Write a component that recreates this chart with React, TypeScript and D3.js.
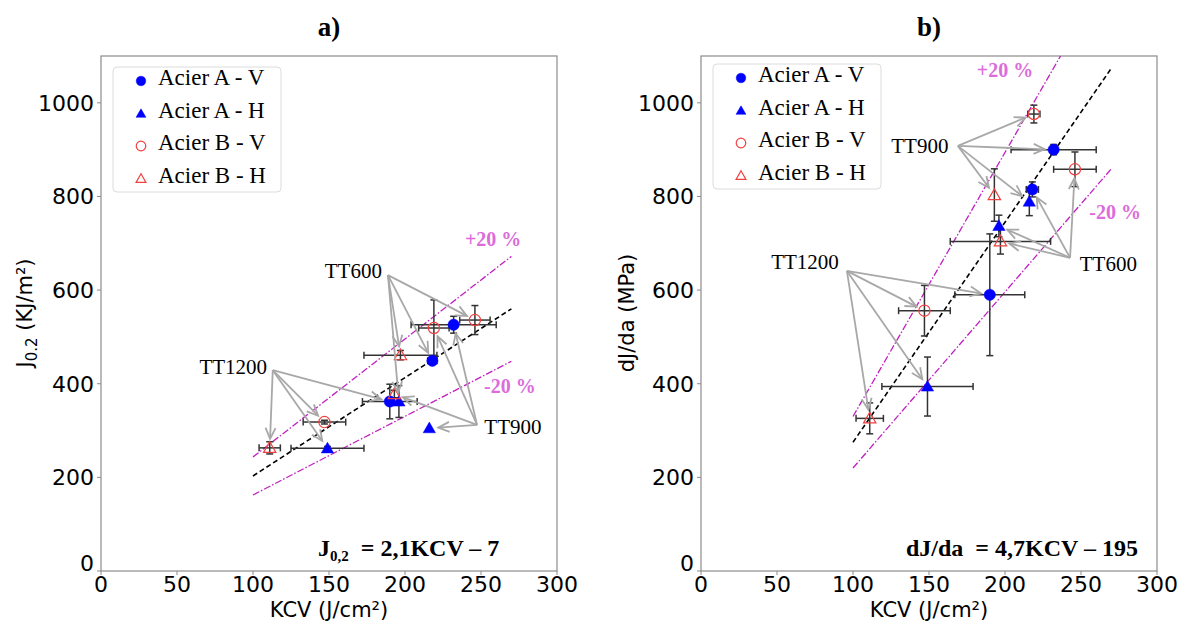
import React from 'react';
import * as d3 from 'd3';

// ---------- data ----------
const treatments = ['TT1200', 'TT900', 'TT600'];
const seriesNames = ['Acier A - V', 'Acier A - H', 'Acier B - V', 'Acier B - H'];

// KCV (J/cm²), order: TT1200, TT900, TT600
const kcvAV = [190, 232, 218];
const kcvAH = [149, 216, 196];
const kcvBV = [147, 219, 246];
const kcvBH = [111, 193, 197];

// panel a) J0.2 (KJ/m²)
const jAV = [362, 526, 449];
const jAH = [262, 305, 362];
const jBV = [318, 519, 536];
const jBH = [263, 378, 461];
const jXerrAV = [18, 28, 3];
const jXerrAH = [24, 0, 0];
const jXerrBV = [14, 10, 10];
const jXerrBH = [7, 0, 24];
const jYerrAV = [37, 18, 5];
const jYerrAH = [4, 0, 34];
const jYerrBV = [4, 60, 31];
const jYerrBH = [13, 8, 10];

// panel b) dJ/da (MPa)
const dAV = [590, 900, 815];
const dAH = [394, 789, 737];
const dBV = [556, 976, 858];
const dBH = [326, 803, 704];
const dXerrAV = [23, 28, 4];
const dXerrAH = [30, 0, 0];
const dXerrBV = [17, 4, 14];
const dXerrBH = [9, 0, 33];
const dYerrAV = [130, 11, 16];
const dYerrAH = [63, 30, 23];
const dYerrBV = [54, 19, 37];
const dYerrBH = [33, 56, 27];

// fits: y = a*KCV + b, drawn from KCV 100 to 270
const fitA = [2.1, -7];
const fitB = [4.7, -195];
const fitRange = [100, 270];
const bandFactors = [1.2, 0.8];

const xTicks = [0, 50, 100, 150, 200, 250, 300];
const yTicks = [0, 200, 400, 600, 800, 1000];

// ---------- layout ----------
const TOP = 56, BOTTOM = 571;
const SERIF = '"Liberation Serif", "Times New Roman", serif';
const SANS = '"DejaVu Sans", sans-serif';
const BLUE = '#0000ff';
const RED = '#f04040';
const MAG = '#c020c0';
const PINK = '#dc6cdc';

type Series = { name: string; kcv: number[]; val: number[]; xe: number[]; ye: number[]; filled: boolean; tri: boolean; color: string };

function Arrow({ x1, y1, x2, y2 }: { x1: number; y1: number; x2: number; y2: number }) {
  const dx = x2 - x1, dy = y2 - y1;
  const L = Math.hypot(dx, dy);
  const ux = dx / L, uy = dy / L;
  const shrink = 9;
  const ex = x2 - ux * shrink, ey = y2 - uy * shrink;
  const hl = 11, hw = 5;
  const bx = ex - ux * hl, by = ey - uy * hl;
  const p1 = [bx - uy * hw, by + ux * hw];
  const p2 = [bx + uy * hw, by - ux * hw];
  return (
    <g stroke="#a8a8a8" strokeWidth={1.8} fill="none" strokeLinejoin="miter">
      <line x1={x1} y1={y1} x2={ex} y2={ey} />
      <polyline points={`${p1[0]},${p1[1]} ${ex},${ey} ${p2[0]},${p2[1]}`} />
    </g>
  );
}

function Marker({ x, y, s, small }: { x: number; y: number; s: Series; small?: boolean }) {
  const sz = small ? (s.tri ? 42 : 72) : (s.tri ? 66 : 100);
  const path = d3.symbol().type(s.tri ? d3.symbolTriangle : d3.symbolCircle).size(sz)()!;
  return (
    <path d={path} transform={`translate(${x},${y + (s.tri ? 1 : 0)})`}
      fill={s.filled ? s.color : 'none'} stroke={s.color} strokeWidth={s.filled ? 0.5 : 1.2} />
  );
}

type Ann = { label: string; tx: number; ty: number; ox: number; oy: number; anchor: string };

function Panel({ left, right, title, series, fit, eq, ylab, anns, pct, legTop }: any) {
  const x = d3.scaleLinear().domain([0, 300]).range([left, right]);
  const y = d3.scaleLinear().domain([0, 1100]).range([BOTTOM, TOP]);
  const clipId = 'clip' + title.replace(/\W/g, '');
  const line = d3.line<number>().x(k => x(k)).y(k => y(fit[0] * k + fit[1]));
  const mk = (f: number) => d3.line<number>().x(k => x(k)).y(k => y(f * (fit[0] * k + fit[1])));
  const cx = (left + right) / 2;
  const cap = 3.5;
  return (
    <g>
      <defs>
        <clipPath id={clipId}><rect x={left} y={TOP} width={right - left} height={BOTTOM - TOP} /></clipPath>
      </defs>
      <text x={cx} y={36} textAnchor="middle" fontFamily={SERIF} fontWeight="bold" fontSize={27}>{title}</text>
      {/* frame */}
      <rect x={left} y={TOP} width={right - left} height={BOTTOM - TOP} fill="none" stroke="#8c8c8c" strokeWidth={1.2} />
      {/* ticks */}
      {xTicks.map(t => (
        <g key={'x' + t}>
          <line x1={x(t)} x2={x(t)} y1={BOTTOM} y2={BOTTOM + 4} stroke="#8c8c8c" />
          <text x={x(t)} y={BOTTOM + 21} textAnchor="middle" fontFamily={SANS} fontSize={22}>{t}</text>
        </g>
      ))}
      {yTicks.map(t => (
        <g key={'y' + t}>
          <line x1={left - 4} x2={left} y1={y(t)} y2={y(t)} stroke="#8c8c8c" />
          <text x={left - 7} y={y(t) + (t === 0 ? 0 : 8)} textAnchor="end" fontFamily={SANS} fontSize={22}>{t}</text>
        </g>
      ))}
      <text x={cx} y={617} textAnchor="middle" fontFamily={SANS} fontSize={21}>KCV (J/cm²)</text>
      {ylab}
      <g clipPath={`url(#${clipId})`}>
        {bandFactors.map(f => (
          <path key={f} d={mk(f)(fitRange)!} fill="none" stroke={MAG} strokeWidth={1.3} strokeDasharray="7,2,1.5,2" />
        ))}
        <path d={line(fitRange)!} fill="none" stroke="#000" strokeWidth={1.6} strokeDasharray="5,3" />
      </g>
      {/* error bars */}
      {series.map((s: Series) => s.kcv.map((k, i) => {
        const px = x(k), py = y(s.val[i]);
        const xe = s.xe[i], ye = s.ye[i];
        return (
          <g key={s.name + i} stroke="#333" strokeWidth={1.5}>
            {xe > 0 && <>
              <line x1={x(k - xe)} x2={x(k + xe)} y1={py} y2={py} />
              <line x1={x(k - xe)} x2={x(k - xe)} y1={py - cap} y2={py + cap} />
              <line x1={x(k + xe)} x2={x(k + xe)} y1={py - cap} y2={py + cap} />
            </>}
            {ye > 0 && <>
              <line x1={px} x2={px} y1={y(s.val[i] - ye)} y2={y(s.val[i] + ye)} />
              <line x1={px - cap} x2={px + cap} y1={y(s.val[i] - ye)} y2={y(s.val[i] - ye)} />
              <line x1={px - cap} x2={px + cap} y1={y(s.val[i] + ye)} y2={y(s.val[i] + ye)} />
            </>}
          </g>
        );
      }))}
      {series.map((s: Series) => s.kcv.map((k, i) => (
        <Marker key={'m' + s.name + i} x={x(k)} y={y(s.val[i])} s={s} />
      )))}
      {/* annotations */}
      {anns.map((a: Ann) => {
        const ti = treatments.indexOf(a.label);
        return (
          <g key={a.label}>
            {series.map((s: Series) => (
              <Arrow key={s.name} x1={x(a.ox)} y1={y(a.oy)} x2={x(s.kcv[ti])} y2={y(s.val[ti])} />
            ))}
            <text x={x(a.tx)} y={y(a.ty)} textAnchor={a.anchor} dominantBaseline="central" fontFamily={SERIF} fontSize={21}>{a.label}</text>
          </g>
        );
      })}
      {pct.map((p: any) => (
        <text key={p.t} x={x(p.k)} y={y(p.v)} textAnchor="middle" dominantBaseline="central" fontFamily={SERIF} fontWeight="bold" fontSize={20} fill={PINK}>{p.t}</text>
      ))}
      {eq}
      {/* legend */}
      <g>
        <rect x={left + 12} y={legTop} width={168} height={125} rx={4} fill="#fff" fillOpacity={0.85} stroke="#dcdcdc" />
        {series.map((s: Series, i: number) => (
          <g key={'l' + s.name}>
            <Marker x={left + 40} y={legTop + 14 + i * 32.5} s={s} small />
            <text x={left + 57} y={legTop + 18 + i * 32.5} fontFamily={SERIF} fontSize={23}>{s.name}</text>
          </g>
        ))}
      </g>
    </g>
  );
}

export default function App() {
  const mkSeries = (vals: number[][], xes: number[][], yes: number[][]): Series[] => [
    { name: seriesNames[0], kcv: kcvAV, val: vals[0], xe: xes[0], ye: yes[0], filled: true, tri: false, color: BLUE },
    { name: seriesNames[1], kcv: kcvAH, val: vals[1], xe: xes[1], ye: yes[1], filled: true, tri: true, color: BLUE },
    { name: seriesNames[2], kcv: kcvBV, val: vals[2], xe: xes[2], ye: yes[2], filled: false, tri: false, color: RED },
    { name: seriesNames[3], kcv: kcvBH, val: vals[3], xe: xes[3], ye: yes[3], filled: false, tri: true, color: RED },
  ];
  const sA = mkSeries([jAV, jAH, jBV, jBH], [jXerrAV, jXerrAH, jXerrBV, jXerrBH], [jYerrAV, jYerrAH, jYerrBV, jYerrBH]);
  const sB = mkSeries([dAV, dAH, dBV, dBH], [dXerrAV, dXerrAH, dXerrBV, dXerrBH], [dYerrAV, dYerrAH, dYerrBV, dYerrBH]);

  const annA: Ann[] = [
    { label: 'TT1200', tx: 87, ty: 436, ox: 113, oy: 429, anchor: 'middle' },
    { label: 'TT600', tx: 166, ty: 641, ox: 188.8, oy: 632, anchor: 'middle' },
    { label: 'TT900', tx: 271, ty: 308, ox: 247.4, oy: 312, anchor: 'middle' },
  ];
  const annB: Ann[] = [
    { label: 'TT900', tx: 144, ty: 908, ox: 169, oy: 908, anchor: 'middle' },
    { label: 'TT1200', tx: 68.4, ty: 660, ox: 96, oy: 641, anchor: 'middle' },
    { label: 'TT600', tx: 268, ty: 656, ox: 242.8, oy: 669, anchor: 'middle' },
  ];
  const pctA = [{ t: '+20 %', k: 258, v: 709 }, { t: '-20 %', k: 269, v: 396 }];
  const pctB = [{ t: '+20 %', k: 200, v: 1071 }, { t: '-20 %', k: 272.5, v: 767 }];

  const eqA = (
    <text x={318} y={556} fontFamily={SERIF} fontWeight="bold" fontSize={24}>
      J<tspan fontSize={15} dy={5}>0,2</tspan><tspan dy={-5}>{'\u00a0 = 2,1KCV – 7'}</tspan>
    </text>
  );
  const eqB = (
    <text x={906} y={556} fontFamily={SERIF} fontWeight="bold" fontSize={24}>
      {'dJ/da \u00a0= 4,7KCV – 195'}
    </text>
  );
  const ylabA = (
    <text transform="translate(32,313) rotate(-90)" textAnchor="middle" fontFamily={SANS} fontSize={21}>
      J<tspan fontSize={15} dy={5}>0.2</tspan><tspan dy={-5}> (KJ/m²)</tspan>
    </text>
  );
  const ylabB = (
    <text transform="translate(634,313) rotate(-90)" textAnchor="middle" fontFamily={SANS} fontSize={21}>
      dJ/da (MPa)
    </text>
  );

  return (
    <svg width={1190} height={626} style={{ position: 'absolute', left: 0, top: 0, background: '#fff' }}>
      <rect width={1190} height={626} fill="#fff" />
      <Panel left={101} right={557} title="a)" series={sA} fit={fitA} eq={eqA} ylab={ylabA} anns={annA} pct={pctA} legTop={67} />
      <Panel left={701} right={1157} title="b)" series={sB} fit={fitB} eq={eqB} ylab={ylabB} anns={annB} pct={pctB} legTop={64} />
    </svg>
  );
}
